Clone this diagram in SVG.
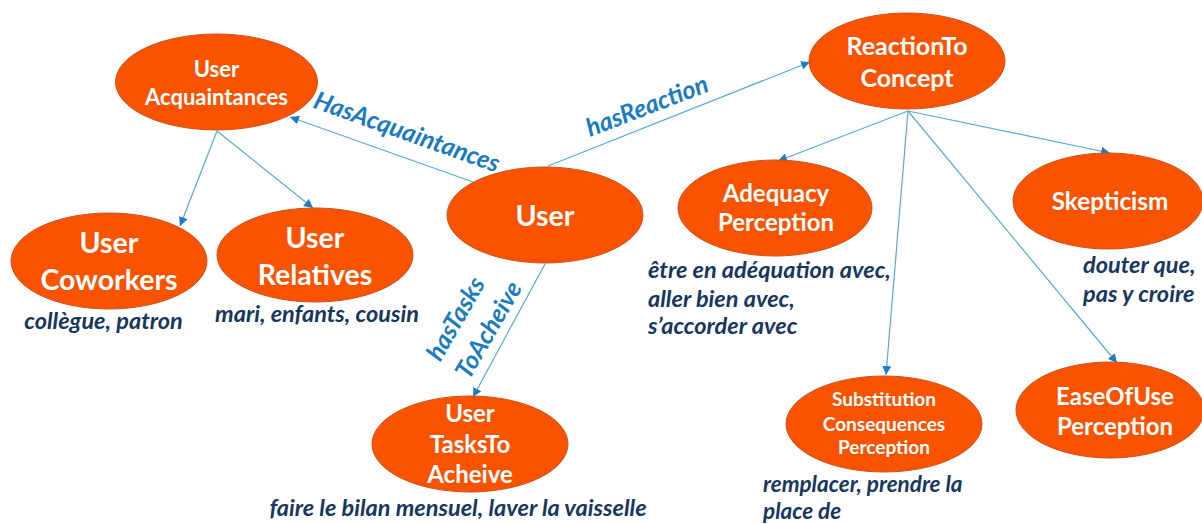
<svg xmlns="http://www.w3.org/2000/svg" width="1202" height="524" viewBox="0 0 1202 524">
<style>
.n{fill:#F95200;stroke:#C9521C;stroke-width:1}
.t{fill:#fff;font-family:Lato,"Open Sans",sans-serif;font-weight:bold;text-anchor:middle}
.c{stroke:#5AA8D8;stroke-width:1.2;fill:none;marker-end:url(#ah)}
.l{fill:#1A7BC0;font-family:Lato,"Open Sans",sans-serif;font-weight:bold;font-style:italic;font-size:25px;text-anchor:middle}
.d{fill:#17375E;font-family:Lato,"Open Sans",sans-serif;font-weight:bold;font-style:italic;font-size:23.5px}
</style>
<defs>
<marker id="ah" viewBox="0 0 10 10" refX="10" refY="5" markerWidth="9" markerHeight="9" markerUnits="userSpaceOnUse" orient="auto">
<path d="M0,0 L10,5 L0,10 z" fill="#1E7EC4"/>
</marker>
</defs>
<rect width="1202" height="524" fill="#fff"/>
<g id="connectors">
<line class="c" x1="473" y1="182" x2="290" y2="117"/>
<line class="c" x1="548" y1="166" x2="810" y2="62"/>
<line class="c" x1="217" y1="131" x2="180" y2="226"/>
<line class="c" x1="217" y1="131" x2="313" y2="208"/>
<line class="c" x1="545" y1="264" x2="473" y2="397"/>
<line class="c" x1="908" y1="111" x2="778" y2="161"/>
<line class="c" x1="908" y1="111" x2="1110" y2="153"/>
<line class="c" x1="908" y1="111" x2="886" y2="375"/>
<line class="c" x1="908" y1="111" x2="1117" y2="363"/>
<text class="l" transform="translate(404,140) rotate(19.5)">HasAcquaintances</text>
<text class="l" transform="translate(650,114) rotate(-21)">hasReaction</text>
<text class="l" transform="translate(463,323) rotate(-60)">hasTasks</text>
<text class="l" transform="translate(496,334) rotate(-60)">ToAcheive</text>
</g>
<g id="acq">
<ellipse class="n" cx="216.5" cy="82" rx="101" ry="48"/>
<text class="t" font-size="22" x="216.5" y="77">User</text>
<text class="t" font-size="22" x="216.5" y="105">Acquaintances</text>
</g>
<g id="rtc">
<ellipse class="n" cx="907" cy="61" rx="98" ry="48"/>
<text class="t" font-size="25" x="907" y="55">ReactionTo</text>
<text class="t" font-size="25" x="907" y="87">Concept</text>
</g>
<g id="user">
<ellipse class="n" cx="545" cy="215" rx="98" ry="48"/>
<text class="t" font-size="28.5" x="545" y="226">User</text>
</g>
<g id="cow">
<ellipse class="n" cx="109" cy="261" rx="98" ry="48"/>
<text class="t" font-size="28.5" x="109" y="253">User</text>
<text class="t" font-size="28.5" x="109" y="290">Coworkers</text>
</g>
<text class="d" x="103.5" y="329" text-anchor="middle">collègue, patron</text>
<g id="rel">
<ellipse class="n" cx="315" cy="255" rx="98" ry="47"/>
<text class="t" font-size="28.5" x="315" y="248">User</text>
<text class="t" font-size="28.5" x="315" y="285">Relatives</text>
</g>
<text class="d" x="317" y="322" text-anchor="middle">mari, enfants, cousin</text>
<g id="tasks">
<ellipse class="n" cx="470" cy="444" rx="98" ry="48"/>
<text class="t" font-size="24" x="470" y="422">User</text>
<text class="t" font-size="24" x="470" y="453">TasksTo</text>
<text class="t" font-size="24" x="470" y="483">Acheive</text>
</g>
<text class="d" x="458" y="516" text-anchor="middle">faire le bilan mensuel, laver la vaisselle</text>
<g id="adeq">
<ellipse class="n" cx="775" cy="208" rx="97" ry="48"/>
<text class="t" font-size="24" x="776" y="202">Adequacy</text>
<text class="t" font-size="24" x="776" y="231">Perception</text>
</g>
<text class="d" x="648" y="278"><tspan x="648" y="278">être en adéquation avec,</tspan><tspan x="648" y="307">aller bien avec,</tspan><tspan x="648" y="334">s’accorder avec</tspan></text>
<g id="skep">
<ellipse class="n" cx="1108" cy="201" rx="95" ry="48"/>
<text class="t" font-size="24.3" x="1110" y="210">Skepticism</text>
</g>
<text class="d" x="1083" y="273"><tspan x="1083" y="273">douter que,</tspan><tspan x="1083" y="302">pas y croire</tspan></text>
<g id="subst">
<ellipse class="n" cx="884" cy="424" rx="98" ry="48"/>
<text class="t" font-size="19" x="884" y="406">Substitution</text>
<text class="t" font-size="19" x="884" y="431">Consequences</text>
<text class="t" font-size="19" x="884" y="454">Perception</text>
</g>
<text class="d" style="font-size:22.5px" x="763" y="492"><tspan x="763" y="492">remplacer, prendre la</tspan><tspan x="763" y="519">place de</tspan></text>
<g id="ease">
<ellipse class="n" cx="1110" cy="410" rx="94" ry="48"/>
<text class="t" font-size="24" x="1115" y="405">EaseOfUse</text>
<text class="t" font-size="24" x="1115" y="435">Perception</text>
</g>
</svg>
